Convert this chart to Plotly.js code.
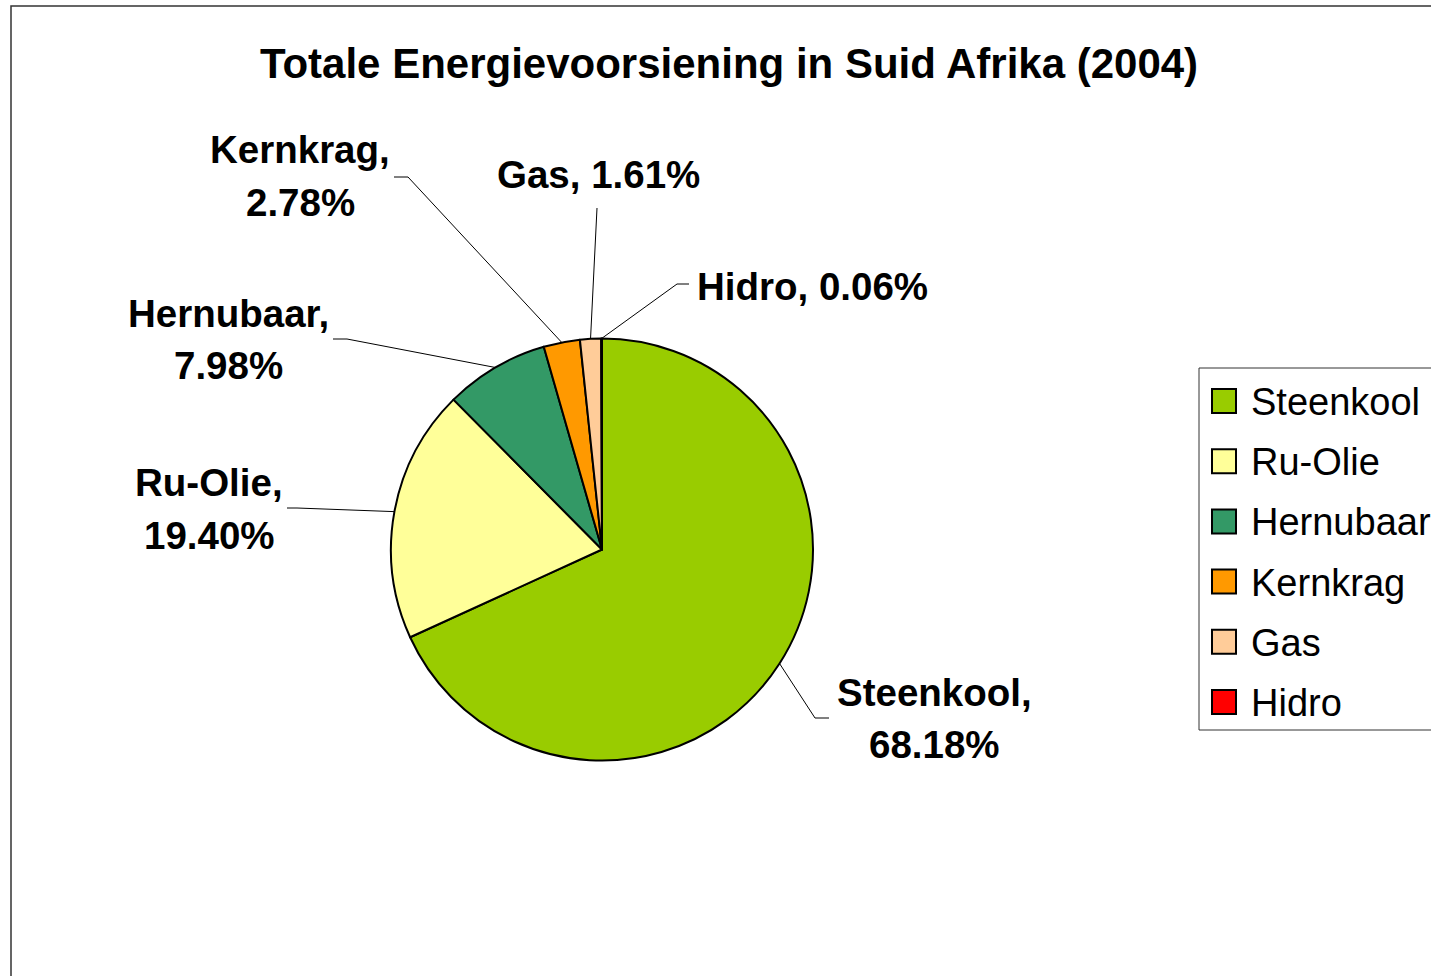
<!DOCTYPE html>
<html>
<head>
<meta charset="utf-8">
<script src="https://cdn.plot.ly/plotly-3.0.1.min.js"></script>
<style>html,body{margin:0;padding:0;background:#fff;}#chart{width:1431px;height:976px;}</style>
</head>
<body>
<div id="chart"></div>
<script>
// ---- data ----
const categories = ['Steenkool', 'Ru-Olie', 'Hernubaar', 'Kernkrag', 'Gas', 'Hidro'];
const shares = [68.18, 19.40, 7.98, 2.78, 1.61, 0.06];
const sliceColors = ['#99CC00', '#FFFF99', '#339966', '#FF9900', '#FFCC99', '#FF0000'];
const chartTitle = 'Totale Energievoorsiening in Suid Afrika (2004)';

// ---- layout geometry (pixels) ----
const W = 1431, H = 976;
const pie = {cx: 602, cy: 549.5, r: 211};
const FONT = 'Liberation Sans, Arial, sans-serif';
// label placement: text line centres and leader-line waypoints (from label side toward pie)
const labelLayout = [
  {lines: 2, x: 934, y: [692, 744], path: [[829, 718], [815, 718]]},
  {lines: 2, x: 209, y: [482, 535], path: [[287, 508], [297, 508]]},
  {lines: 2, x: 228, y: [313, 365], path: [[333, 339], [347, 339]]},
  {lines: 2, x: 300, y: [150, 203], path: [[394, 177], [408, 177]]},
  {lines: 1, x: 598.5, y: [174], path: [[597, 208]]},
  {lines: 1, x: 695, y: [286], anchor: 'left', path: [[689, 284], [677, 284]]}
];

const px = x => x / W;
const py = y => 1 - y / H;

const total = shares.reduce((a, b) => a + b, 0);
const shapes = [];
const annotations = [];

// outer chart-area border
shapes.push({type: 'rect', xref: 'paper', yref: 'paper', x0: px(11), x1: px(W + 20), y0: py(H + 20), y1: py(6),
  line: {color: '#333333', width: 1.5}, fillcolor: 'rgba(0,0,0,0)'});

let cum = 0;
categories.forEach((c, i) => {
  const v = shares[i];
  const theta = 2 * Math.PI * (cum + v / 2) / total;
  cum += v;
  const ax = pie.cx + pie.r * Math.sin(theta);
  const ay = pie.cy - pie.r * Math.cos(theta);
  const L = labelLayout[i];
  const pts = L.path.concat([[ax, ay]]);
  for (let k = 0; k < pts.length - 1; k++) {
    shapes.push({type: 'line', xref: 'paper', yref: 'paper',
      x0: px(pts[k][0]), y0: py(pts[k][1]), x1: px(pts[k + 1][0]), y1: py(pts[k + 1][1]),
      line: {color: '#000000', width: 1}});
  }
  const pct = v.toFixed(2) + '%';
  const texts = L.lines === 2 ? [c + ',', pct] : [c + ', ' + pct];
  texts.forEach((t, j) => {
    annotations.push({xref: 'paper', yref: 'paper', x: px(L.x), y: py(L.y[j]),
      xanchor: L.anchor || 'center', yanchor: 'middle', showarrow: false, text: t,
      font: {family: FONT, size: 38.5, color: '#000000', weight: 'bold'}});
  });
});

// custom legend
const leg = {x0: 1199, y0: 368, x1: W + 20, y1: 730, swX: 1212, sw: 24, firstY: 401, step: 60.2, textX: 1249};
shapes.push({type: 'rect', xref: 'paper', yref: 'paper', x0: px(leg.x0), x1: px(leg.x1), y0: py(leg.y1), y1: py(leg.y0),
  line: {color: '#333333', width: 1}, fillcolor: 'rgba(0,0,0,0)'});
categories.forEach((c, i) => {
  const yc = leg.firstY + i * leg.step;
  shapes.push({type: 'rect', xref: 'paper', yref: 'paper',
    x0: px(leg.swX), x1: px(leg.swX + leg.sw), y0: py(yc + leg.sw / 2), y1: py(yc - leg.sw / 2),
    line: {color: '#000000', width: 2}, fillcolor: sliceColors[i]});
  annotations.push({xref: 'paper', yref: 'paper', x: px(leg.textX), y: py(yc + 1), xanchor: 'left', yanchor: 'middle',
    showarrow: false, text: c, font: {family: FONT, size: 38, color: '#000000'}});
});

const trace = {
  type: 'pie',
  labels: categories,
  values: shares,
  sort: false,
  direction: 'clockwise',
  rotation: 0,
  textinfo: 'none',
  hoverinfo: 'label+percent',
  marker: {colors: sliceColors, line: {color: '#000000', width: 2}},
  domain: {x: [px(pie.cx - pie.r), px(pie.cx + pie.r)], y: [py(pie.cy + pie.r), py(pie.cy - pie.r)]},
  showlegend: false
};

const layout = {
  width: W, height: H,
  margin: {l: 0, r: 0, t: 0, b: 0},
  paper_bgcolor: '#ffffff',
  showlegend: false,
  title: {text: chartTitle, x: px(729), xanchor: 'center', y: py(63), yanchor: 'middle',
    font: {family: FONT, size: 42, color: '#000000', weight: 'bold'}},
  shapes: shapes,
  annotations: annotations
};

Plotly.newPlot('chart', [trace], layout, {displayModeBar: false, staticPlot: false});
</script>
</body>
</html>
